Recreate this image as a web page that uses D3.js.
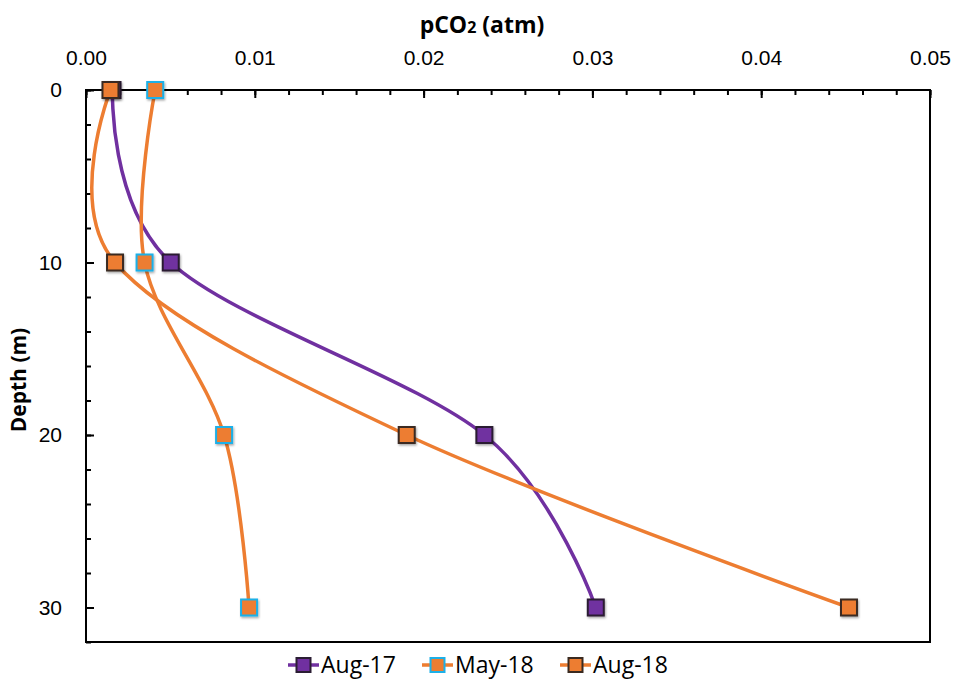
<!DOCTYPE html>
<html>
<head>
<meta charset="utf-8">
<script src="https://cdn.jsdelivr.net/npm/d3@7"></script>
<style>
  body { margin: 0; background: #fff; }
  svg { display: block; font-family: "Open Sans", Arial, sans-serif; }
</style>
</head>
<body>
<svg></svg>
<script>
// data
const depths = [0, 10, 20, 30];
const aug17 = [0.00157, 0.00502, 0.0236, 0.0302];
const may18 = [0.0041, 0.00347, 0.00818, 0.00966];
const aug18 = [0.00145, 0.00172, 0.0190, 0.0452];
const seriesNames = ["Aug-17", "May-18", "Aug-18"];
const xTicks = [0, 0.01, 0.02, 0.03, 0.04, 0.05];
const yTicks = [0, 10, 20, 30];

const width = 954;
const height = 681;
const margin = { left: 86, right: 24, top: 90, bottom: 39 };

const svg = d3.select("svg").attr("width", width).attr("height", height);

const x_scale = d3.scaleLinear().domain([0, 0.05]).range([margin.left, width - margin.right]);
const y_scale = d3.scaleLinear().domain([0, 32]).range([margin.top, height - margin.bottom]);

// series styles
const styles = [
  { line: "#7030A0", fill: "#7030A0", stroke: "#2b1d33" },
  { line: "#ED7D31", fill: "#ED7D31", stroke: "#1CB0E8" },
  { line: "#ED7D31", fill: "#ED7D31", stroke: "#3a2a20" }
];
const series = [aug17, may18, aug18].map((vals, i) => ({
  name: seriesNames[i],
  style: styles[i],
  points: vals.map((v, j) => ({ x: v, depth: depths[j] }))
}));

// drop shadow for the markers
const defs = svg.append("defs");
defs.append("filter")
  .attr("id", "shadow")
  .attr("x", "-50%").attr("y", "-50%").attr("width", "200%").attr("height", "200%")
  .append("feDropShadow")
  .attr("dx", 1).attr("dy", 1.5).attr("stdDeviation", 1.2)
  .attr("flood-color", "#000").attr("flood-opacity", 0.35);

// axes: major ticks with labels, minor ticks inside
const x_axis = d3.axisTop(x_scale).tickValues(xTicks).tickFormat(d3.format(".2f"))
  .tickSize(-8).tickPadding(25);
const x_minor = d3.axisTop(x_scale).tickValues(d3.range(0, 0.0501, 0.002))
  .tickSize(-5).tickFormat("");
const y_axis = d3.axisLeft(y_scale).tickValues(yTicks).tickSize(-8).tickPadding(24);
const y_minor = d3.axisLeft(y_scale).tickValues(d3.range(0, 32.1, 2))
  .tickSize(-5).tickFormat("");

function styleAxis(g) {
  g.select(".domain").remove();
  g.selectAll(".tick line").attr("stroke", "#000").attr("stroke-width", 2);
  g.selectAll(".tick text").attr("fill", "#000").style("font-size", "21px").style("font-family", null);
}

svg.append("g").attr("transform", `translate(0,${margin.top})`).call(x_minor).call(styleAxis);
svg.append("g").attr("transform", `translate(0,${margin.top})`).call(x_axis).call(styleAxis);
svg.append("g").attr("transform", `translate(${margin.left},0)`).call(y_minor).call(styleAxis);
svg.append("g").attr("transform", `translate(${margin.left},0)`).call(y_axis).call(styleAxis);

// plot frame
svg.append("rect")
  .attr("x", margin.left)
  .attr("y", margin.top)
  .attr("width", width - margin.right - margin.left)
  .attr("height", height - margin.bottom - margin.top)
  .attr("fill", "none")
  .attr("stroke", "#000")
  .attr("stroke-width", 2);

// title on top
const title = svg.append("text")
  .attr("x", 482)
  .attr("y", 33)
  .attr("text-anchor", "middle")
  .style("font-size", "23px")
  .style("font-weight", "bold");
title.append("tspan").text("pCO");
title.append("tspan").text("2").style("font-size", "16px");
title.append("tspan").text(" (atm)");

// y label
svg.append("text")
  .attr("text-anchor", "middle")
  .attr("transform", `translate(26, 380) rotate(-90)`)
  .style("font-size", "21px")
  .style("font-weight", "bold")
  .text("Depth (m)");

// smooth lines
const line_generator = d3.line()
  .x((d) => x_scale(d.x))
  .y((d) => y_scale(d.depth))
  .curve(d3.curveCardinal.tension(0));

const markerSize = 16;

series.forEach((s) => {
  svg.append("path")
    .datum(s.points)
    .attr("fill", "none")
    .attr("stroke", s.style.line)
    .attr("stroke-width", 3.5)
    .attr("d", line_generator);
});

series.forEach((s) => {
  svg.append("g")
    .selectAll("rect")
    .data(s.points)
    .join("rect")
    .attr("x", (d) => x_scale(d.x) - markerSize / 2)
    .attr("y", (d) => y_scale(d.depth) - markerSize / 2)
    .attr("width", markerSize)
    .attr("height", markerSize)
    .attr("fill", s.style.fill)
    .attr("stroke", s.style.stroke)
    .attr("stroke-width", 2)
    .attr("filter", "url(#shadow)");
});

// legend
const legendX = [288, 422, 560];
const legendY = 665;
series.forEach((s, i) => {
  const g = svg.append("g").attr("transform", `translate(${legendX[i]},${legendY})`);
  g.append("line")
    .attr("x1", 0).attr("x2", 31)
    .attr("stroke", s.style.line)
    .attr("stroke-width", 3.5);
  g.append("rect")
    .attr("x", 15.5 - 7).attr("y", -7)
    .attr("width", 14).attr("height", 14)
    .attr("fill", s.style.fill)
    .attr("stroke", s.style.stroke)
    .attr("stroke-width", 2);
  g.append("text")
    .attr("x", 33)
    .attr("y", 8)
    .style("font-size", "23px")
    .text(s.name);
});
</script>
</body>
</html>
